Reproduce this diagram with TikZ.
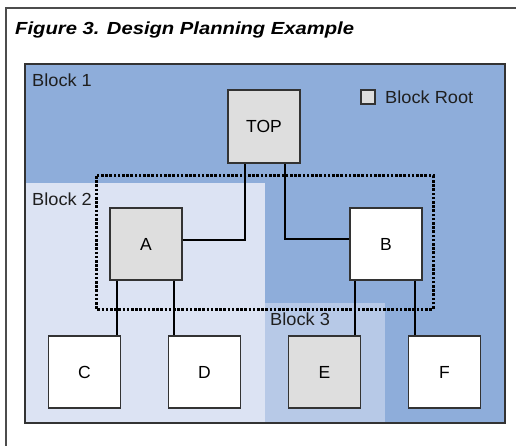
\documentclass[tikz,border=0pt]{standalone}
\usepackage{fontspec}
\setmainfont{Liberation Sans}
\definecolor{blkone}{HTML}{8EADDA}
\definecolor{blktwo}{HTML}{DCE3F3}
\definecolor{blkthree}{HTML}{B7C9E7}
\definecolor{rootgray}{HTML}{DEDEDE}
\definecolor{edgegray}{HTML}{333333}
\begin{document}
\begin{tikzpicture}[x=1pt,y=-1pt,
  box/.style={draw=edgegray,line width=1.3pt,minimum width=72pt,minimum height=72pt,inner sep=0pt,font=\fontsize{17.5}{20}\selectfont},
  rootbox/.style={box,fill=rootgray},
  plainbox/.style={box,fill=white},
  lbl/.style={anchor=west,inner sep=0pt,xscale=1.04,font=\fontsize{17.5}{20}\selectfont,text=black!88},
  wire/.style={draw=black,line width=1.1pt}]
\useasboundingbox (0,0) rectangle (516,446);
\fill[white] (0,0) rectangle (516,446);
% outer frame
\draw[black!70,line width=1.5pt] (6,446) -- (6,8) -- (516,8);
% title
\node[anchor=base west,inner sep=0pt,xscale=1.155,font=\fontsize{17.5}{20}\selectfont\bfseries\itshape] (title) at (15,35) {Figure 3. Design Planning Example};
% blocks
\fill[blkone] (25,64) rectangle (505,423);
\fill[blktwo] (25,183) rectangle (265,423);
\fill[blkthree] (265,303) rectangle (385,423);
\draw[edgegray,line width=1.3pt] (25,64) rectangle (505,423);
\node[lbl] (b1) at (32,80) {Block 1};
\node[lbl] (b2) at (32,199) {Block 2};
\node[lbl] (b3) at (270,319) {Block 3};
% legend
\node[draw=edgegray,line width=1.2pt,fill=rootgray,minimum size=14pt,inner sep=0pt] (leg) at (368,97) {};
\node[lbl] (legt) at (385,97) {Block Root};
% dotted region
\draw[black,line width=3pt,dash pattern=on 2.6pt off 1.6pt] (96,176) rectangle (433,309);
% nodes
\node[rootbox,minimum height=73pt] (TOP) at (264,126.5) {TOP};
\node[rootbox] (A) at (146,244) {A};
\node[plainbox] (B) at (386,244) {B};
\node[plainbox] (C) at (84.5,372) {C};
\node[plainbox] (D) at (204.5,372) {D};
\node[rootbox] (E) at (324.5,372) {E};
\node[plainbox] (F) at (444.5,372) {F};
% connectors
\draw[wire] ([yshift=4pt]A.east) -| ([xshift=-19pt]TOP.south);
\draw[wire] ([xshift=21pt]TOP.south) |- ([yshift=5pt]B.west);
\draw[wire] ([xshift=-29pt]A.south) -- ([xshift=-29pt]A.south |- C.north);
\draw[wire] ([xshift=28pt]A.south) -- ([xshift=28pt]A.south |- D.north);
\draw[wire] ([xshift=-31pt]B.south) -- ([xshift=-31pt]B.south |- E.north);
\draw[wire] ([xshift=29pt]B.south) -- ([xshift=29pt]B.south |- F.north);
\end{tikzpicture}
\end{document}
